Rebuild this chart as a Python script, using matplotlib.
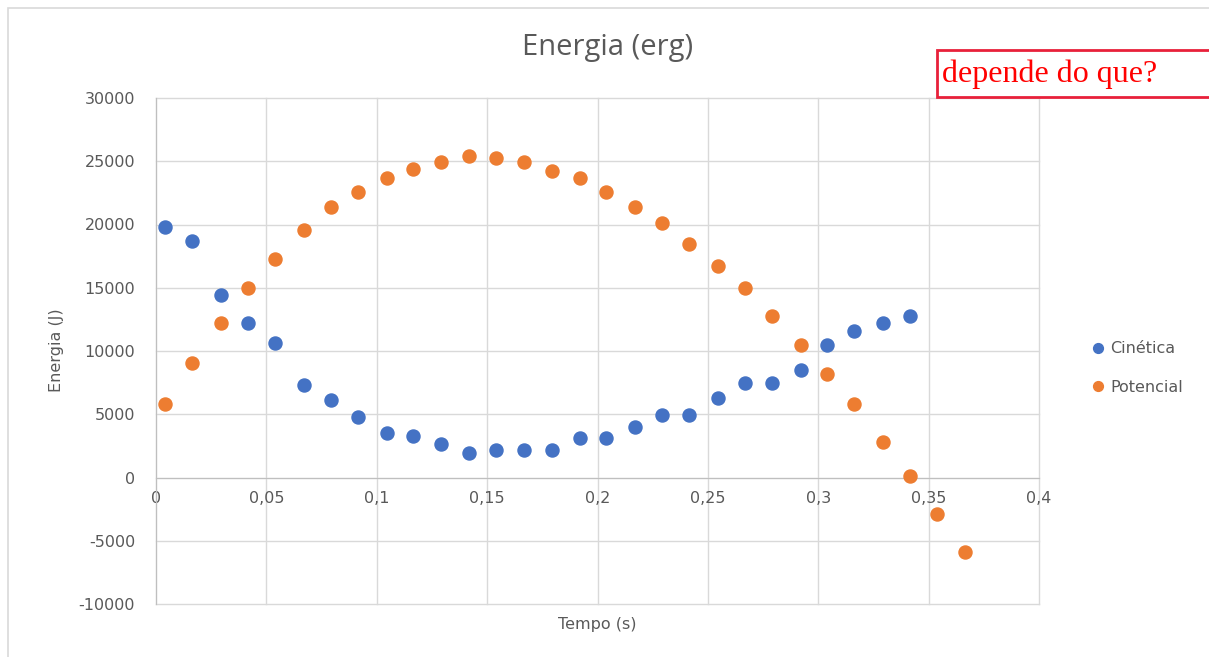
import matplotlib
matplotlib.use("Agg")
import matplotlib.pyplot as plt
from matplotlib.patches import Rectangle
from matplotlib.ticker import FixedLocator, FuncFormatter

# ---- data ----
tempo = [0.0042, 0.0165, 0.0294, 0.0418, 0.0539, 0.0670, 0.0791, 0.0913, 0.1045, 0.1165,
         0.1289, 0.1419, 0.1541, 0.1665, 0.1795, 0.1920, 0.2040, 0.2171, 0.2293, 0.2414,
         0.2545, 0.2668, 0.2790, 0.2920, 0.3040, 0.3163, 0.3294, 0.3416, 0.3540, 0.3663]
cinetica = [19800, 18700, 14400, 12200, 10600, 7350, 6100, 4800, 3500, 3250,
            2650, 1950, 2200, 2200, 2200, 3100, 3100, 4000, 4950, 4950,
            6250, 7500, 7500, 8500, 10500, 11600, 12200, 12750]
potencial = [5800, 9050, 12200, 15000, 17300, 19550, 21400, 22550, 23700, 24400,
             24950, 25400, 25250, 24950, 24250, 23700, 22550, 21400, 20100, 18450,
             16750, 15000, 12750, 10450, 8200, 5800, 2800, 100, -2900, -5850]
x_ticks = [0, 0.05, 0.1, 0.15, 0.2, 0.25, 0.3, 0.35, 0.4]
y_ticks = [-10000, -5000, 0, 5000, 10000, 15000, 20000, 25000, 30000]
series_names = ["Cinética", "Potencial"]
title = "Energia (erg)"
xlabel = "Tempo (s)"
ylabel = "Energia (J)"
note = "depende do que?"

BLUE = "#4472C4"
ORANGE = "#ED7D31"
TXT = "#595959"
GRID = "#D9D9D9"

W, H = 1209, 657
fig = plt.figure(figsize=(W / 100, H / 100), dpi=100)
fig.patch.set_facecolor("white")

# chart frame (partially cropped)
fig.patches.append(Rectangle((8 / W, -0.1), 1.2, 1 - 8 / H + 0.1, transform=fig.transFigure,
                             fill=False, edgecolor="#D9D9D9", linewidth=1.2))

ax = fig.add_axes([156 / W, 1 - 604 / H, (1039 - 156) / W, (604 - 98) / H])
ax.set_xlim(0, 0.4)
ax.set_ylim(-10000, 30000)
ax.xaxis.set_major_locator(FixedLocator(x_ticks))
ax.yaxis.set_major_locator(FixedLocator(y_ticks))
ax.xaxis.set_major_formatter(FuncFormatter(lambda v, p: ("%g" % v).replace(".", ",")))
ax.yaxis.set_major_formatter(FuncFormatter(lambda v, p: "%d" % v))
ax.grid(True, color=GRID, linewidth=1.0)
ax.set_axisbelow(True)
for s in ["top", "right"]:
    ax.spines[s].set_visible(False)
ax.spines["bottom"].set_position(("data", 0))
ax.spines["bottom"].set_color("#BFBFBF")
ax.spines["left"].set_color("#BFBFBF")
ax.tick_params(axis="both", length=0, colors=TXT, labelsize=11.5)
ax.tick_params(axis="y", pad=15)
ax.tick_params(axis="x", pad=10)
for lab in ax.get_xticklabels() + ax.get_yticklabels():
    lab.set_color(TXT)
for gl in ax.get_xgridlines() + ax.get_ygridlines():
    gl.set_clip_on(False)

ax.plot(tempo[:len(cinetica)], cinetica, "o", color=BLUE, markersize=9.4, linestyle="none",
        label=series_names[0], clip_on=False, zorder=3)
ax.plot(tempo[:len(potencial)], potencial, "o", color=ORANGE, markersize=9.4, linestyle="none",
        label=series_names[1], clip_on=False, zorder=3)

fig.text(608 / W, 1 - 48 / H, title, ha="center", va="center", fontsize=21,
         color=TXT, family="Open Sans")
fig.text(597 / W, 1 - 625 / H, xlabel, ha="center", va="center", fontsize=11.5, color=TXT)
fig.text(57 / W, 1 - 350 / H, ylabel, ha="center", va="center", fontsize=11.5, color=TXT,
         rotation=90)

leg = fig.legend(loc="center left", bbox_to_anchor=(1072 / W, 1 - 368 / H), frameon=False,
                 fontsize=11.5, markerscale=0.75, handletextpad=0.0, labelspacing=1.45,
                 handlelength=1.5)
for t in leg.get_texts():
    t.set_color(TXT)

# red note box
fig.patches.append(Rectangle((937 / W, 1 - 97 / H), 0.5, 47 / H, transform=fig.transFigure,
                             fill=True, facecolor="white", edgecolor="#E8203A", linewidth=2))
fig.text(942 / W, 1 - 74 / H, note, ha="left", va="center", fontsize=23, color="#FF0000",
         family="Liberation Serif")

fig.savefig("out.png", dpi=100)
